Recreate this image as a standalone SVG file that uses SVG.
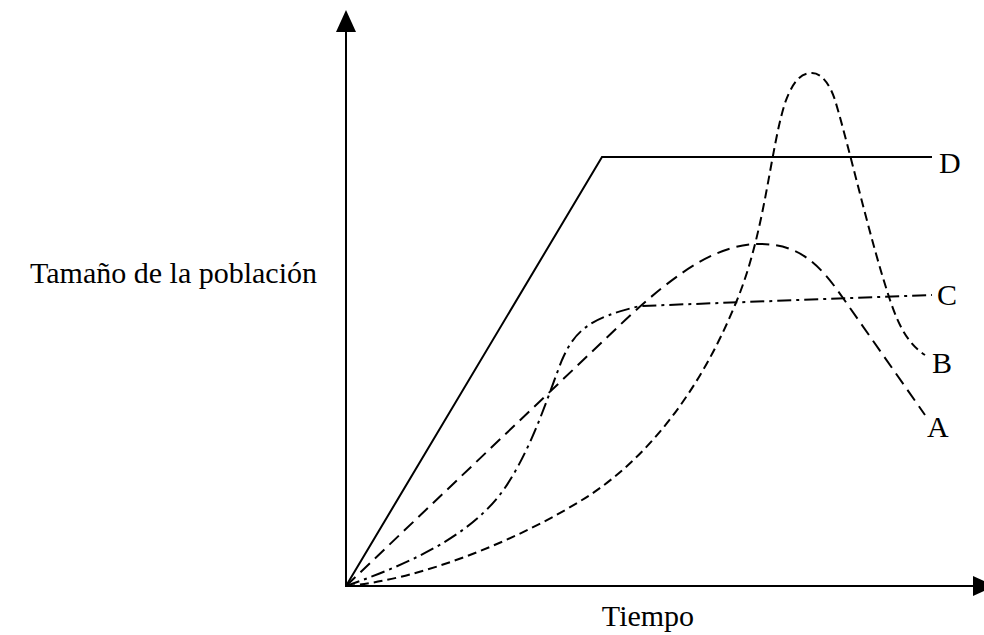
<svg xmlns="http://www.w3.org/2000/svg" width="984" height="635" viewBox="0 0 984 635">
<style>
.ax{stroke:#000;stroke-width:2;fill:none}
.cv{stroke:#000;stroke-width:2;fill:none}
.a{stroke-dasharray:13 7}
.b{stroke-dasharray:9 5}
.c{stroke-dasharray:14 5 3 5}
text{font-family:"Liberation Serif","Times New Roman",serif;font-size:30px;fill:#000}
</style>
<rect width="984" height="635" fill="#fff"/>
<g id="axes">
<line class="ax" x1="346" y1="587" x2="346" y2="30"/>
<polygon points="346,10 336,32 356,32"/>
<line class="ax" x1="345" y1="586" x2="975" y2="586"/>
<polygon points="995,586 973,576 973,596"/>
<text x="317" y="283" text-anchor="end">Tamaño de la población</text>
<text x="648" y="626" text-anchor="middle">Tiempo</text>
</g>
<g id="connectors">
<path id="curveD" class="cv" d="M346,586 L602,157 L932,157"/>
<path id="curveA" class="cv a" d="M346,586 L620,325 C680,268 720,244 760,244 C800,244 820,265 843,298 L925,415"/>
<path id="curveB" class="cv b" d="M346,586 C420,580 520,540 590,495 C650,455 700,390 735,305 C765,235 770,150 785,103 C795,75 805,73 812,73 C822,73 830,85 835,100 C850,150 870,240 890,300 C900,330 910,345 925,355"/>
<path id="curveC" class="cv c" d="M346,586 C420,560 480,530 510,480 C535,440 550,390 562,360 C575,330 590,318 640,306 L932,295"/>
</g>
<g id="labelD"><text x="939" y="173">D</text></g>
<g id="labelC"><text x="937" y="305">C</text></g>
<g id="labelB"><text x="932" y="373">B</text></g>
<g id="labelA"><text x="927" y="437">A</text></g>
</svg>
